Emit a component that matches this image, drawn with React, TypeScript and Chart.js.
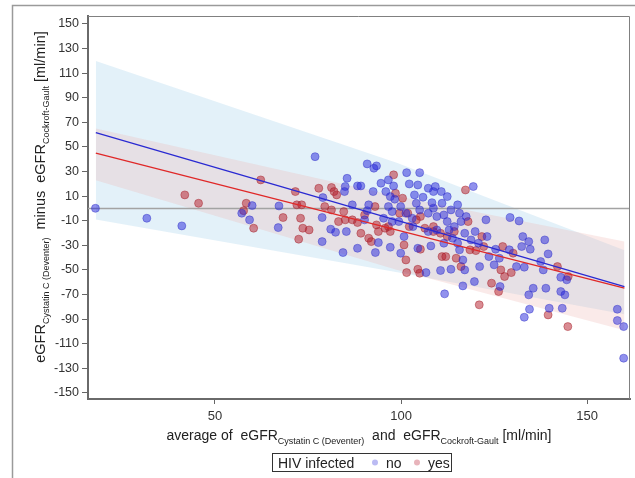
import React, { useEffect, useRef } from "react";
import { Chart, registerables } from "chart.js";

Chart.register(...registerables);

// ---- axis setup ----
const xTicks = [50, 100, 150];
const yTicks = [-150, -130, -110, -90, -70, -50, -30, -10, 10, 30, 50, 70, 90, 110, 130, 150];
const xRange = [15.9, 161.5];
const yRange = [-155, 156.5];

// ---- regression lines ----
const fitX = [18, 160];
const fitNo = [61.6, -63.6];
const fitYes = [44.9, -64.9];

// ---- prediction bands ----
const bandX = [18, 99, 160];
const noUpper = [120, 37, -34];
const noLower = [-9, -52, -86];
const yesUpper = [65, 10, -27];
const yesLower = [23, -50, -99];

// ---- HIV infected: no ----
const noPoints: [number, number][] = [
  [17.9, 0.1], [31.7, -8], [41.1, -14.2], [76.9, 42.1], [60, 2.3], [59.3, -9.3], [57.2, -3.9],
  [67.2, 2], [67, -15.6], [79, 8.8], [78.8, -7.4], [78.8, -27], [81.1, -16.9], [82.4, -19.4],
  [84.4, -35.9], [85.3, -18.8], [85.5, 24.5], [85, 17.8], [84.8, 13.7], [86.9, 2.9], [88.3, 18.3],
  [89.2, 18.3], [88.3, -32.4], [90.9, 36.2], [93.4, 34.6], [92.7, 32.7], [94.6, 20.5], [92.5, 13.7],
  [91.3, 2.9], [90.9, -1.8], [90.2, -9.3], [93.9, -27.8], [93.1, -35.9], [96.6, 23.2], [98, 18.3],
  [95.9, 13.7], [97.1, 9.6], [98.3, 7.5], [96.6, 1.5], [97.6, -2.6], [95.3, -8], [97.6, -10.7],
  [97.1, -31.6], [101.5, 29.1], [105, 29.1], [102.2, 19.9], [104.5, 19.1], [107.3, 16.4],
  [109.2, 17.8], [110.8, 13.7], [103.6, 11], [105.9, 9.1], [108.3, 4.7], [111, 4.2], [113.4, -1.2],
  [115.2, 2.9], [115.7, -3.9], [99.9, 1.5], [101.3, -3.9], [103, -8], [105, -1.2], [107.3, -3.9],
  [109.6, -6.6], [112.4, -10.7], [114.3, -14.8], [116.1, -10.7], [117.5, -6.6], [100.8, -22.9],
  [99.9, -36.4], [104.5, -32.4], [108, -30.5], [111.5, -28.3], [113.8, -24.2], [115.2, -28.3],
  [115.7, -33.7], [116.6, -41.9], [117.1, -50], [113.4, -49.5], [110.6, -50.5], [106.7, -52.2],
  [111.7, -69.5], [116.6, -63], [119.7, -59.5], [121.1, -47.3], [119.4, 17.8], [122.8, -9.3],
  [129.3, -7.4], [131.7, -10.2], [118.8, -25.6], [120.8, -28.3], [123.1, -22.9], [123.6, -39.2],
  [125.4, -33.2], [126.4, -40.5], [125, -45.9], [126.6, -63.5], [129.1, -33.7], [132.7, -22.9],
  [134.3, -27], [132.4, -31], [134.7, -33.2], [138.6, -25.6], [139.5, -37], [131, -47.3],
  [133.1, -47.8], [137.5, -43.2], [138.2, -50], [135.5, -64.9], [134.3, -70.3], [134.5, -82],
  [133.1, -88.5], [138.9, -64.9], [139.8, -81.2], [142.9, -56], [144.5, -58.1], [142.9, -67.6],
  [144, -70.3], [143.3, -81.2], [158.1, -82], [158.1, -91.2], [159.8, -96.1], [159.8, -121.8],
  [104.1, 4.2], [108.7, 0.2], [111.5, -5.3], [99.4, -10.7], [103.2, -14.8], [107.3, -18.8],
  [109.6, -17.5], [112.9, -17.5], [117.1, -20.2], [119.9, -18.8], [112.4, 9.6], [108.7, 13.7],
];

// ---- HIV infected: yes ----
const yesPoints: [number, number][] = [
  [62.3, 23.2], [41.9, 11], [45.6, 4.2], [58.4, 4.2], [57.7, -1.8], [60.4, -16.1], [71.6, 13.7],
  [72, 2.9], [73.3, 2.9], [73, -8], [73.6, -16.1], [75.3, -17.5], [72.5, -25], [77.9, 16.4],
  [81.3, 17], [82, 13.7], [82.7, 11], [79.5, 1.5], [81.3, -1.2], [84.6, -2.6], [68.3, -7.4],
  [83.2, -10.7], [85, -9.3], [86.9, -9.3], [88.3, -11.5], [89.2, -20.2], [91.3, -24.2], [92, -27],
  [90.2, -5.3], [93, 1.5], [93.4, -13.4], [93.9, -18.8], [95.7, -16.1], [97.1, -18.8], [98, 27.3],
  [98.5, 12.3], [100.4, 8.3], [99.6, -3.9], [101.8, -3.9], [104.1, -9.3], [105.2, -6.6],
  [100.8, -29.7], [105.2, -33.2], [101.3, -41.9], [101.5, -52.2], [104.5, -49.5], [105, -52.7],
  [108.7, -18.8], [110.6, -20.2], [112.4, -22.9], [111, -39.2], [112, -39.2], [114.8, -40.5],
  [116.1, -47.3], [117.3, 15], [118, -10.7], [118.5, -33.7], [120.1, -34.3], [121.7, -22.9],
  [122.2, -31], [121, -78.4], [124.3, -60.8], [126.2, -67.6], [126.8, -50], [127.8, -55.4],
  [129.6, -52.2], [127.3, -31], [130.1, -36.4], [142, -47.3], [144.9, -55.4], [139.5, -86.6],
  [144.8, -96.1], [96.6, -14.8], [102.2, -14.8], [106.4, -16.1], [108.7, -14.8], [114.3, -18.8],
];

// ---- texts ----
type Seg = { t: string; sub?: boolean };
const xTitle: Seg[] = [
  { t: "average of  eGFR" },
  { t: "Cystatin C (Deventer)", sub: true },
  { t: "  and  eGFR" },
  { t: "Cockroft-Gault", sub: true },
  { t: " [ml/min]" },
];
const yTitle: Seg[] = [
  { t: "eGFR" },
  { t: "Cystatin C (Deventer)", sub: true },
  { t: "  minus  eGFR" },
  { t: "Cockroft-Gault", sub: true },
  { t: " [ml/min]" },
];
const legendTitle = "HIV infected";
const groupLabels = ["no", "yes"];

const FONT = '"Liberation Sans", Arial, sans-serif';
const BLUE_PT = "rgba(35,35,220,0.5)";
const BLUE_PT_BORDER = "rgba(50,50,200,0.45)";
const RED_PT = "rgba(180,25,40,0.5)";
const RED_PT_BORDER = "rgba(165,30,40,0.45)";

function drawRich(ctx: CanvasRenderingContext2D, segs: Seg[], cx: number, baseY: number, main: number, sub: number) {
  let total = 0;
  const widths = segs.map((s) => {
    ctx.font = `${s.sub ? sub : main}px ${FONT}`;
    const w = ctx.measureText(s.t).width;
    total += w;
    return w;
  });
  let x = cx - total / 2;
  ctx.textAlign = "left";
  ctx.textBaseline = "alphabetic";
  segs.forEach((s, i) => {
    ctx.font = `${s.sub ? sub : main}px ${FONT}`;
    ctx.fillText(s.t, x, baseY + (s.sub ? 4 : 0));
    x += widths[i];
  });
}

const decorPlugin = {
  id: "decor",
  afterDraw(chart: any) {
    const ctx: CanvasRenderingContext2D = chart.ctx;
    const a = chart.chartArea;
    ctx.save();
    // outer frame
    ctx.strokeStyle = "#9a9a9a";
    ctx.lineWidth = 1.5;
    ctx.beginPath();
    ctx.moveTo(12.5, 478);
    ctx.lineTo(12.5, 5.5);
    ctx.lineTo(635, 5.5);
    ctx.stroke();
    // top and right border of plot
    ctx.strokeStyle = "#808080";
    ctx.lineWidth = 1;
    ctx.beginPath();
    ctx.moveTo(a.left, a.top + 0.5);
    ctx.lineTo(a.right - 0.5, a.top + 0.5);
    ctx.lineTo(a.right - 0.5, a.bottom);
    ctx.stroke();

    ctx.fillStyle = "#222";
    // x title
    drawRich(ctx, xTitle, (a.left + a.right) / 2, 440, 14, 9);
    // y title
    ctx.save();
    ctx.translate(45, 197);
    ctx.rotate(-Math.PI / 2);
    drawRich(ctx, yTitle, 0, 0, 14.5, 9);
    ctx.restore();

    // legend
    const bx = 272, by = 453, bw = 179, bh = 18;
    ctx.strokeStyle = "#333";
    ctx.lineWidth = 1;
    ctx.strokeRect(bx + 0.5, by + 0.5, bw, bh);
    ctx.font = `14px ${FONT}`;
    ctx.fillStyle = "#222";
    ctx.textBaseline = "alphabetic";
    ctx.textAlign = "left";
    ctx.fillText(legendTitle, bx + 6, by + 14.5);
    const dotCols = ["rgba(60,60,220,0.35)", "rgba(190,40,60,0.35)"];
    const dotX = [375, 417];
    groupLabels.forEach((lab, i) => {
      ctx.fillStyle = dotCols[i];
      ctx.beginPath();
      ctx.arc(dotX[i], by + 9.5, 3, 0, Math.PI * 2);
      ctx.fill();
      ctx.fillStyle = "#222";
      ctx.fillText(lab, dotX[i] + 11, by + 14.5);
    });
    ctx.restore();
  },
};

export default function App() {
  const ref = useRef<HTMLCanvasElement>(null);
  useEffect(() => {
    if (!ref.current) return;
    const line = (xs: number[], ys: number[]) => xs.map((x, i) => ({ x, y: ys[i] }));
    const chart = new Chart(ref.current, {
      type: "line",
      data: {
        datasets: [
          { label: "noUpper", data: line(bandX, noUpper), borderWidth: 0, pointRadius: 0, fill: "+1", backgroundColor: "rgba(200,228,243,0.5)", order: 13 } as any,
          { label: "noLower", data: line(bandX, noLower), borderWidth: 0, pointRadius: 0, fill: false, order: 12 } as any,
          { label: "yesUpper", data: line(bandX, yesUpper), borderWidth: 0, pointRadius: 0, fill: "+1", backgroundColor: "rgba(238,180,175,0.28)", order: 11 } as any,
          { label: "yesLower", data: line(bandX, yesLower), borderWidth: 0, pointRadius: 0, fill: false, order: 10 } as any,
          { label: "zero", data: line(xRange, [0, 0]), borderColor: "#a3a3a3", borderWidth: 1.5, pointRadius: 0, fill: false, order: 5 } as any,
          { label: "yes", data: yesPoints.map(([x, y]) => ({ x, y })), showLine: false, pointRadius: 4, pointBackgroundColor: RED_PT, pointBorderColor: RED_PT_BORDER, pointBorderWidth: 1, order: 4 } as any,
          { label: "no", data: noPoints.map(([x, y]) => ({ x, y })), showLine: false, pointRadius: 4, pointBackgroundColor: BLUE_PT, pointBorderColor: BLUE_PT_BORDER, pointBorderWidth: 1, order: 3 } as any,
          { label: "fitYes", data: line(fitX, fitYes), borderColor: "#e02828", borderWidth: 1.3, pointRadius: 0, fill: false, order: 2 } as any,
          { label: "fitNo", data: line(fitX, fitNo), borderColor: "#2a2ad2", borderWidth: 1.3, pointRadius: 0, fill: false, order: 1 } as any,
        ],
      },
      options: {
        animation: false,
        responsive: false,
        events: [],
        layout: { padding: { top: 16, right: 1, left: 0, bottom: 0 } },
        plugins: { legend: { display: false }, tooltip: { enabled: false }, title: { display: false } },
        scales: {
          x: {
            type: "linear",
            min: xRange[0],
            max: xRange[1],
            afterBuildTicks: (s: any) => { s.ticks = xTicks.map((v) => ({ value: v })); },
            afterFit: (s: any) => { s.height = 79; },
            grid: { display: true, drawOnChartArea: false, drawTicks: true, tickLength: 5, color: "#666", lineWidth: 1 },
            border: { display: true, color: "#6a6a6a", width: 2 },
            ticks: { font: { family: FONT, size: 13 }, color: "#333", padding: 5, maxRotation: 0, autoSkip: false },
          },
          y: {
            type: "linear",
            min: yRange[0],
            max: yRange[1],
            afterBuildTicks: (s: any) => { s.ticks = yTicks.map((v) => ({ value: v })); },
            afterFit: (s: any) => { s.width = 88; },
            grid: { display: true, drawOnChartArea: false, drawTicks: true, tickLength: 6, color: "#666", lineWidth: 1 },
            border: { display: true, color: "#6a6a6a", width: 2 },
            ticks: { font: { family: FONT, size: 12.5 }, color: "#333", padding: 3, autoSkip: false },
          },
        },
      } as any,
      plugins: [decorPlugin],
    });
    return () => chart.destroy();
  }, []);
  return (
    <div style={{ position: "absolute", left: 0, top: 0, width: 635, height: 478, background: "#fff" }}>
      <canvas ref={ref} width={635} height={478} />
    </div>
  );
}
